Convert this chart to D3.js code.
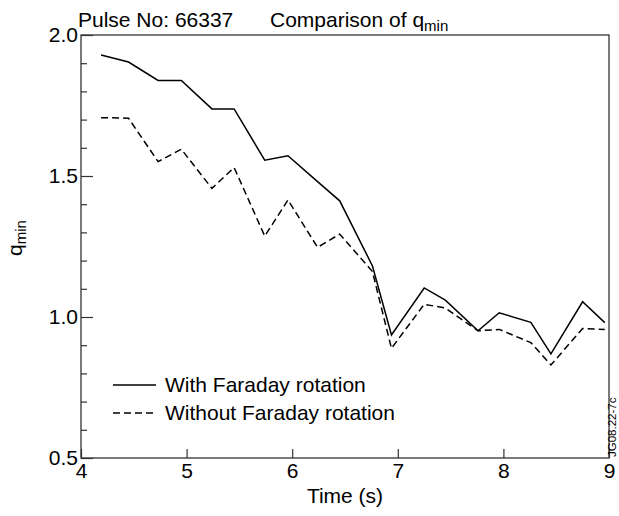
<!DOCTYPE html>
<html>
<head>
<meta charset="utf-8">
<title>Comparison of qmin</title>
<script src="https://d3js.org/d3.v7.min.js"></script>
<style>
  body { margin: 0; background: #fff; }
  svg text { font-family: "Liberation Sans", Arial, sans-serif; fill: #000; }
</style>
</head>
<body>
<svg id="chart" width="619" height="516"></svg>
<script>
// data
var times = [4.19, 4.45, 4.73, 4.95, 5.24, 5.45, 5.74, 5.96, 6.24, 6.45,
             6.76, 6.94, 7.25, 7.45, 7.76, 7.96, 8.26, 8.45, 8.75, 8.96];
var withFaraday = [1.929, 1.904, 1.839, 1.839, 1.738, 1.738, 1.556, 1.572, 1.48, 1.412,
                   1.181, 0.936, 1.103, 1.060, 0.951, 1.015, 0.981, 0.869, 1.054, 0.980];
var withoutFaraday = [1.707, 1.705, 1.551, 1.595, 1.456, 1.530, 1.287, 1.415, 1.247, 1.294,
                      1.161, 0.889, 1.045, 1.032, 0.951, 0.956, 0.909, 0.830, 0.959, 0.956];
var xTicks = [4, 5, 6, 7, 8, 9];
var yTicks = [0.5, 1.0, 1.5, 2.0];
var yMinor = [0.6, 0.7, 0.8, 0.9, 1.1, 1.2, 1.3, 1.4, 1.6, 1.7, 1.8, 1.9];
var legendLabels = ["With Faraday rotation", "Without Faraday rotation"];

// plot box (pixels)
var pLeft = 81, pRight = 609, pTop = 35, pBottom = 458;

var svg = d3.select("#chart");

var x = d3.scaleLinear().domain([4, 9]).range([pLeft, pRight]);
var y = d3.scaleLinear().domain([0.5, 2.0]).range([pBottom, pTop]);

// frame
svg.append("rect")
  .attr("x", pLeft).attr("y", pTop)
  .attr("width", pRight - pLeft).attr("height", pBottom - pTop)
  .attr("fill", "none").attr("stroke", "#333").attr("stroke-width", 1.3);

// x axis (ticks point inward)
var xAxis = d3.axisBottom(x).tickValues(xTicks).tickSize(-9).tickPadding(5)
  .tickFormat(d3.format("d"));
var gx = svg.append("g").attr("transform", "translate(0," + pBottom + ")").call(xAxis);
gx.select(".domain").remove();
gx.selectAll("line").attr("stroke", "#333").attr("stroke-width", 1.2);
gx.selectAll("text").attr("font-size", 21).attr("dy", "0.71em");

// y axis, major + minor
var yAxis = d3.axisLeft(y).tickValues(yTicks).tickSize(-12).tickPadding(3)
  .tickFormat(d3.format(".1f"));
var gy = svg.append("g").attr("transform", "translate(" + pLeft + ",0)").call(yAxis);
gy.select(".domain").remove();
gy.selectAll("line").attr("stroke", "#333").attr("stroke-width", 1.2);
gy.selectAll("text").attr("font-size", 21);

var gyMinor = svg.append("g").attr("transform", "translate(" + pLeft + ",0)")
  .call(d3.axisLeft(y).tickValues(yMinor).tickSize(-6).tickFormat(""));
gyMinor.select(".domain").remove();
gyMinor.selectAll("line").attr("stroke", "#333").attr("stroke-width", 1.2);

// lines
var line = d3.line()
  .x(function(d) { return x(d[0]); })
  .y(function(d) { return y(d[1]); });

svg.append("path")
  .datum(d3.zip(times, withFaraday))
  .attr("d", line)
  .attr("fill", "none").attr("stroke", "#000").attr("stroke-width", 1.5);

svg.append("path")
  .datum(d3.zip(times, withoutFaraday))
  .attr("d", line)
  .attr("fill", "none").attr("stroke", "#000").attr("stroke-width", 1.5)
  .attr("stroke-dasharray", "7,4");

// legend
var legend = svg.append("g").attr("transform", "translate(113,385)");
legendLabels.forEach(function(lbl, i) {
  var row = legend.append("g").attr("transform", "translate(0," + (i * 28) + ")");
  row.append("line").attr("x1", 0).attr("x2", 43).attr("y1", 0).attr("y2", 0)
    .attr("stroke", "#000").attr("stroke-width", 1.5)
    .attr("stroke-dasharray", i == 1 ? "7,4" : null);
  row.append("text").attr("x", 52).attr("y", 0).attr("dy", "0.35em")
    .attr("font-size", 21).text(lbl);
});

// titles
svg.append("text").attr("x", 78).attr("y", 27).attr("font-size", 21)
  .text("Pulse No: 66337");
var t2 = svg.append("text").attr("x", 270).attr("y", 27).attr("font-size", 21);
t2.append("tspan").text("Comparison of q");
t2.append("tspan").attr("font-size", 15).attr("dy", 4).text("min");

svg.append("text").attr("x", (pLeft + pRight) / 2).attr("y", 503)
  .attr("text-anchor", "middle").attr("font-size", 21).text("Time (s)");

var yl = svg.append("text")
  .attr("transform", "translate(22,238) rotate(-90)")
  .attr("text-anchor", "middle").attr("font-size", 21);
yl.append("tspan").text("q");
yl.append("tspan").attr("font-size", 15).attr("dy", 4).text("min");

// figure id
svg.append("text")
  .attr("transform", "translate(616,457) rotate(-90)")
  .attr("font-size", 11.5).text("JG08.22-7c");
</script>
</body>
</html>
